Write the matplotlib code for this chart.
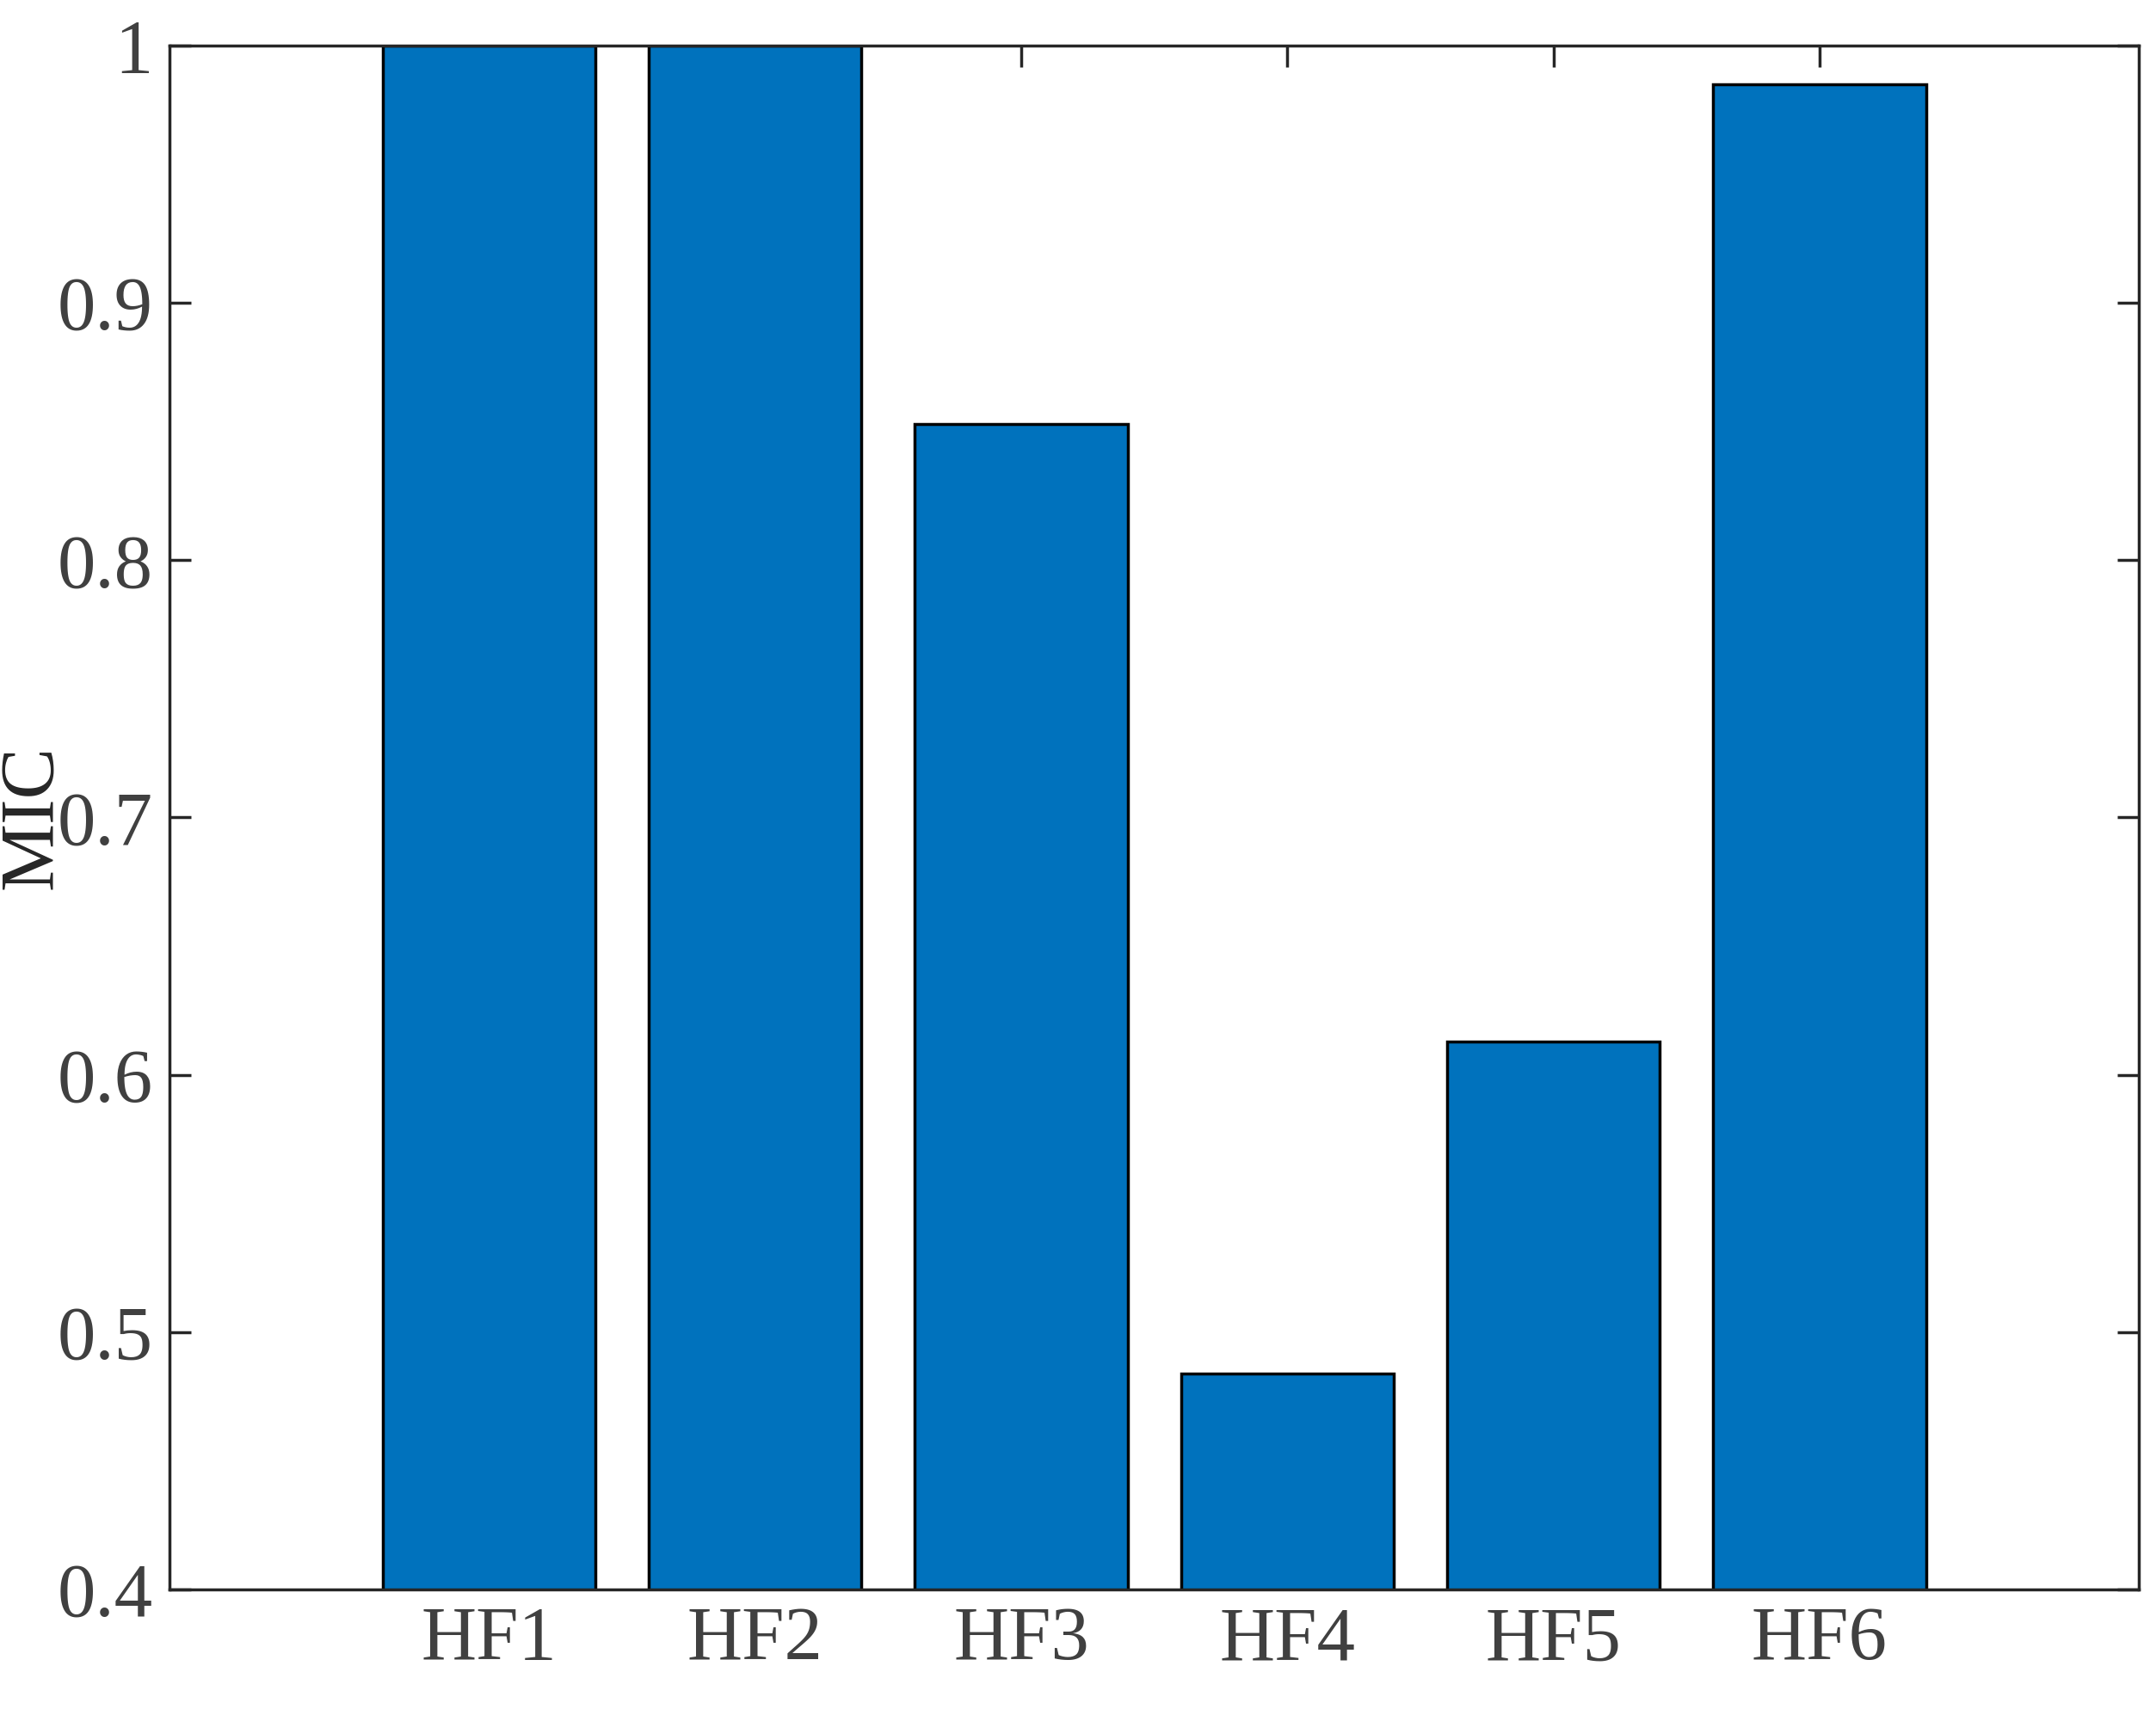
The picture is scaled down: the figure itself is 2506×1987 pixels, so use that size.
import matplotlib
matplotlib.use("Agg")
import matplotlib.pyplot as plt

categories = ["HF1", "HF2", "HF3", "HF4", "HF5", "HF6"]
values = [1.0, 1.0, 0.853, 0.484, 0.613, 0.985]

plt.rcParams['font.family'] = ['serif']
plt.rcParams['font.serif'] = ['Liberation Serif', 'Times New Roman', 'DejaVu Serif']
fig = plt.figure(figsize=(25.06, 19.87), dpi=100)
ax = fig.add_axes([0.0787, 0.07, 0.9133, 0.9034])
x = list(range(1, len(categories) + 1))
ax.bar(x, values, width=0.8, bottom=0, color="#0072BD", edgecolor="black", linewidth=2.5, zorder=2)
ax.set_xlim(-0.2, 7.2)
ax.set_ylim(0.4, 1.0)
ax.set_xticks(x)
ax.set_xticklabels(categories)
ax.set_yticks([0.4, 0.5, 0.6, 0.7, 0.8, 0.9, 1.0])
ax.set_yticklabels(["0.4", "0.5", "0.6", "0.7", "0.8", "0.9", "1"])
ax.tick_params(direction="in", length=18, width=2.5, labelsize=64, colors="#262626",
               labelcolor="#404040", top=True, right=True, pad=14)
for s in ax.spines.values():
    s.set_linewidth(2.5)
    s.set_color("#262626")
ax.set_ylabel("MIC", fontsize=64, color="#262626")
ax.yaxis.set_label_coords(-0.052, 0.5)
fig.savefig("out.png", dpi=100)
